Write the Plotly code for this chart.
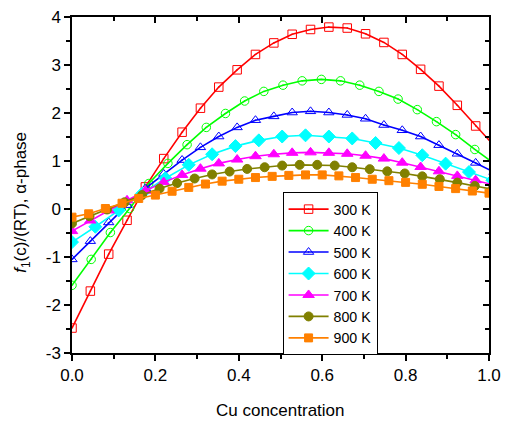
import plotly.graph_objects as go

# x grids (Cu concentration) per temperature
x_300 = [0.0, 0.044, 0.088, 0.132, 0.176, 0.22, 0.264, 0.308, 0.352, 0.396, 0.44, 0.484,
         0.528, 0.572, 0.616, 0.66, 0.704, 0.748, 0.792, 0.836, 0.88, 0.924, 0.968, 1.012]
x_400 = [0.0, 0.046, 0.092, 0.138, 0.184, 0.23, 0.276, 0.322, 0.368, 0.414, 0.46, 0.506,
         0.552, 0.598, 0.644, 0.69, 0.736, 0.782, 0.828, 0.874, 0.92, 0.966, 1.012]
x_500 = x_300
x_600 = [0.0, 0.056, 0.112, 0.168, 0.224, 0.28, 0.336, 0.392, 0.448, 0.504, 0.56, 0.616,
         0.672, 0.728, 0.784, 0.84, 0.896, 0.952, 1.008]
x_700 = x_300
x_800 = [0.0, 0.042, 0.084, 0.126, 0.168, 0.21, 0.252, 0.294, 0.336, 0.378, 0.42, 0.462,
         0.504, 0.546, 0.588, 0.63, 0.672, 0.714, 0.756, 0.798, 0.84, 0.882, 0.924, 0.966, 1.008]
x_900 = [0.0, 0.04, 0.08, 0.12, 0.16, 0.2, 0.24, 0.28, 0.32, 0.36, 0.4, 0.44, 0.48,
         0.52, 0.56, 0.6, 0.64, 0.68, 0.72, 0.76, 0.8, 0.84, 0.88, 0.92, 0.96, 1.0]

# f1(c)/(RT) values
f_300 = [-2.48, -1.71, -0.94, -0.235, 0.46, 1.05, 1.60, 2.10, 2.54, 2.90, 3.22, 3.46,
         3.64, 3.74, 3.79, 3.77, 3.65, 3.47, 3.22, 2.91, 2.56, 2.16, 1.73, 1.32]
f_400 = [-1.59, -1.05, -0.49, 0.01, 0.53, 0.95, 1.34, 1.70, 1.99, 2.25, 2.45, 2.58,
         2.67, 2.70, 2.67, 2.58, 2.45, 2.29, 2.07, 1.82, 1.55, 1.24, 0.95]
f_500 = [-1.05, -0.67, -0.28, 0.08, 0.43, 0.73, 1.02, 1.285, 1.51, 1.70, 1.85, 1.93,
         2.01, 2.035, 2.01, 1.96, 1.88, 1.75, 1.64, 1.51, 1.33, 1.15, 0.96, 0.77]
f_600 = [-0.69, -0.37, -0.03, 0.32, 0.64, 0.92, 1.14, 1.31, 1.43, 1.51, 1.535, 1.51,
         1.47, 1.375, 1.27, 1.12, 0.945, 0.77, 0.60]
f_700 = [-0.46, -0.24, -0.03, 0.18, 0.38, 0.56, 0.71, 0.84, 0.95, 1.03, 1.10, 1.14,
         1.17, 1.18, 1.17, 1.15, 1.11, 1.05, 0.965, 0.875, 0.785, 0.69, 0.60, 0.50]
f_800 = [-0.30, -0.15, -0.01, 0.14, 0.29, 0.425, 0.54, 0.635, 0.72, 0.78, 0.835, 0.87,
         0.905, 0.92, 0.92, 0.905, 0.87, 0.83, 0.785, 0.74, 0.68, 0.62, 0.55, 0.48, 0.41]
f_900 = [-0.17, -0.10, 0.01, 0.12, 0.22, 0.29, 0.37, 0.45, 0.52, 0.58, 0.62, 0.655,
         0.68, 0.70, 0.71, 0.71, 0.69, 0.655, 0.62, 0.59, 0.555, 0.515, 0.47, 0.425, 0.375, 0.33]

x_ticks = [0.0, 0.2, 0.4, 0.6, 0.8, 1.0]
x_ticklabels = ["0.0", "0.2", "0.4", "0.6", "0.8", "1.0"]
y_ticks = [-3, -2, -1, 0, 1, 2, 3, 4]
y_ticklabels = ["-3", "-2", "-1", "0", "1", "2", "3", "4"]

series = [
    ("300 K", x_300, f_300, "#FF0000", "square-open-dot", 8.5),
    ("400 K", x_400, f_400, "#00FF00", "circle-open-dot", 8.5),
    ("500 K", x_500, f_500, "#0000FF", "triangle-up-open-dot", 9),
    ("600 K", x_600, f_600, "#00FFFF", "diamond", 10),
    ("700 K", x_700, f_700, "#FF00FF", "triangle-up", 10),
    ("800 K", x_800, f_800, "#808000", "circle", 9),
    ("900 K", x_900, f_900, "#FF8000", "square", 8),
]

FONT = "Liberation Sans, Arial, sans-serif"

fig = go.Figure()
for name, xs, ys, color, symbol, size in series:
    fig.add_trace(
        go.Scatter(
            x=xs,
            y=ys,
            mode="lines+markers",
            name=name,
            line={"color": color, "width": 1.6},
            marker={"symbol": symbol, "size": size, "color": color,
                    "line": {"color": color, "width": 1}},
        )
    )

# dummy trace so the top/right mirror axes get drawn
fig.add_trace(go.Scatter(x=[None], y=[None], xaxis="x2", yaxis="y2",
                         showlegend=False, hoverinfo="skip"))

axis_common = dict(showgrid=False, zeroline=False, showline=True, automargin=False,
                   linecolor="black", linewidth=1.5, tickcolor="black",
                   tickwidth=1.5, tickfont={"size": 17})

fig.update_layout(
    width=505,
    height=423,
    margin={"l": 72, "r": 16, "t": 17, "b": 70, "autoexpand": False},
    paper_bgcolor="white",
    plot_bgcolor="white",
    font={"family": FONT, "size": 17, "color": "black"},
    xaxis=dict(
        axis_common, range=[0, 1], tickvals=x_ticks, ticktext=x_ticklabels,
        ticks="outside", ticklen=6,
        minor=dict(ticks="outside", ticklen=4, dtick=0.1, tickcolor="black", tickwidth=1.5),
    ),
    yaxis=dict(
        axis_common, range=[-3, 4], tickvals=y_ticks, ticktext=y_ticklabels,
        ticks="outside", ticklen=6,
        minor=dict(ticks="outside", ticklen=4, dtick=0.5, tickcolor="black", tickwidth=1.5),
    ),
    xaxis2=dict(
        axis_common, range=[0, 1], dtick=0.2, overlaying="x", side="top",
        anchor="y", ticks="inside", ticklen=6, showticklabels=False,
        minor=dict(ticks="inside", ticklen=4, dtick=0.1, tickcolor="black", tickwidth=1.5),
    ),
    yaxis2=dict(
        axis_common, range=[-3, 4], dtick=1, overlaying="y", side="right",
        anchor="x", ticks="inside", ticklen=6, showticklabels=False,
        minor=dict(ticks="inside", ticklen=4, dtick=0.5, tickcolor="black", tickwidth=1.5),
    ),
    legend=dict(
        x=0.505, y=0.478, xanchor="left", yanchor="top",
        bgcolor="white", bordercolor="black", borderwidth=1,
        font={"family": FONT, "size": 14.2},
        itemwidth=40,
    ),
    annotations=[
        dict(text="Cu concentration", xref="paper", yref="paper", x=0.5, y=-0.17,
             xanchor="center", yanchor="middle", showarrow=False,
             font={"family": FONT, "size": 17}),
        dict(text="<i>f</i><sub>1</sub>(c)/(RT), α-phase", xref="paper", yref="paper",
             x=-0.12, y=0.45, xanchor="center", yanchor="middle", textangle=-90,
             showarrow=False, font={"family": FONT, "size": 17}),
    ],
)

# the browser's default 8px body margin would shift the figure
fig.write_html("out.html", config={"displayModeBar": False},
               post_script="document.body.style.margin = '0';")
